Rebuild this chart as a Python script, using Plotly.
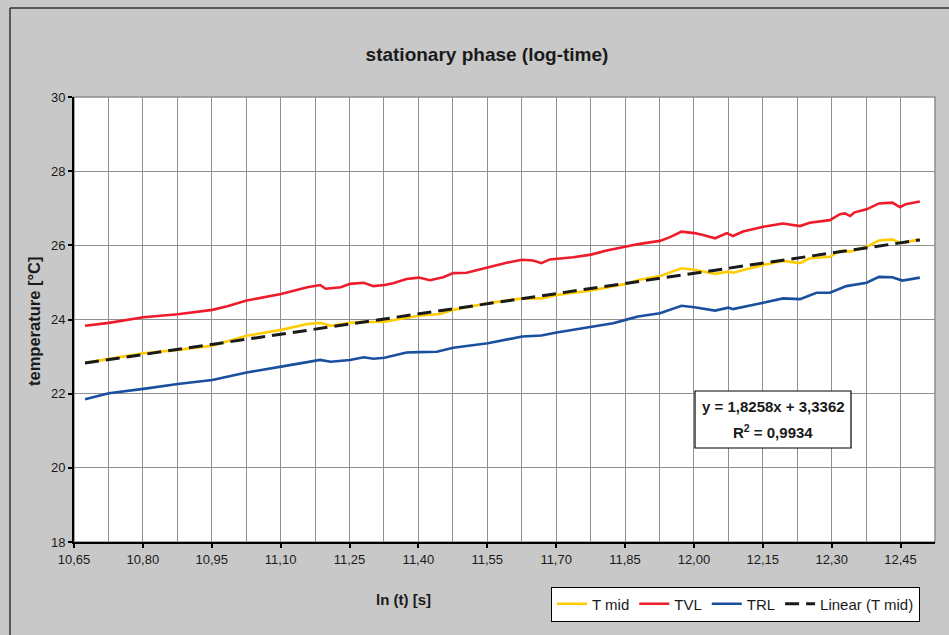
import plotly.graph_objects as go

# ---------------- data ----------------
tmid_x = [10.674, 10.726, 10.801, 10.876, 10.951, 11.026, 11.101, 11.158, 11.186, 11.209,
          11.251, 11.273, 11.326, 11.401, 11.447, 11.476, 11.551, 11.626, 11.668, 11.701,
          11.776, 11.851, 11.882, 11.926, 11.948, 11.973, 12.001, 12.046, 12.075, 12.085,
          12.151, 12.194, 12.231, 12.252, 12.296, 12.318, 12.340, 12.376, 12.403, 12.432,
          12.450, 12.492]
tmid_y = [22.83, 22.94, 23.09, 23.18, 23.29, 23.56, 23.72, 23.88, 23.91, 23.83,
          23.91, 23.93, 23.94, 24.10, 24.15, 24.26, 24.44, 24.57, 24.57, 24.66,
          24.78, 24.96, 25.07, 25.17, 25.26, 25.38, 25.34, 25.23, 25.29, 25.26,
          25.47, 25.58, 25.52, 25.65, 25.69, 25.85, 25.83, 25.96, 26.13, 26.16,
          26.06, 26.16]

tvl_x = [10.674, 10.726, 10.801, 10.876, 10.951, 10.984, 11.026, 11.101, 11.158, 11.186,
         11.198, 11.231, 11.251, 11.281, 11.302, 11.326, 11.345, 11.374, 11.401, 11.425,
         11.454, 11.476, 11.505, 11.551, 11.592, 11.626, 11.650, 11.668, 11.686, 11.737,
         11.776, 11.810, 11.851, 11.882, 11.926, 11.948, 11.973, 12.001, 12.020, 12.046,
         12.072, 12.085, 12.107, 12.151, 12.194, 12.231, 12.252, 12.296, 12.318, 12.329,
         12.340, 12.350, 12.376, 12.403, 12.432, 12.449, 12.461, 12.492]
tvl_y = [23.83, 23.91, 24.06, 24.14, 24.26, 24.36, 24.51, 24.69, 24.87, 24.93,
         24.83, 24.87, 24.96, 24.99, 24.90, 24.93, 24.98, 25.09, 25.13, 25.06,
         25.14, 25.25, 25.26, 25.40, 25.53, 25.61, 25.59, 25.52, 25.62, 25.68,
         25.75, 25.86, 25.96, 26.04, 26.12, 26.22, 26.37, 26.33, 26.28, 26.19,
         26.33, 26.25, 26.37, 26.50, 26.59, 26.52, 26.61, 26.68, 26.84, 26.86,
         26.79, 26.89, 26.97, 27.13, 27.15, 27.03, 27.11, 27.18]

trl_x = [10.674, 10.726, 10.801, 10.876, 10.951, 11.026, 11.101, 11.158, 11.186, 11.209,
         11.251, 11.281, 11.302, 11.326, 11.374, 11.401, 11.440, 11.476, 11.551, 11.626,
         11.668, 11.701, 11.776, 11.824, 11.851, 11.878, 11.926, 11.948, 11.973, 12.001,
         12.046, 12.075, 12.085, 12.151, 12.194, 12.231, 12.267, 12.296, 12.332, 12.376,
         12.403, 12.432, 12.454, 12.492]
trl_y = [21.85, 22.01, 22.13, 22.26, 22.37, 22.57, 22.73, 22.86, 22.91, 22.86,
         22.91, 22.98, 22.94, 22.97, 23.11, 23.12, 23.13, 23.24, 23.36, 23.54,
         23.57, 23.65, 23.81, 23.90, 23.99, 24.08, 24.17, 24.26, 24.37, 24.33,
         24.24, 24.32, 24.28, 24.45, 24.57, 24.55, 24.72, 24.72, 24.90, 24.99,
         25.15, 25.14, 25.05, 25.13]

trend_slope = 1.8258
trend_intercept = 3.3362
trend_r2_text = "0,9934"

x_tick_vals = [10.65, 10.80, 10.95, 11.10, 11.25, 11.40, 11.55, 11.70, 11.85, 12.00, 12.15, 12.30, 12.45]
x_tick_text = ["10,65", "10,80", "10,95", "11,10", "11,25", "11,40", "11,55", "11,70",
               "11,85", "12,00", "12,15", "12,30", "12,45"]
y_tick_vals = [18, 20, 22, 24, 26, 28, 30]
y_tick_text = ["18", "20", "22", "24", "26", "28", "30"]

# ---------------- figure ----------------
W, H = 949, 635
ML, MR, MT, MB = 74, 14, 97, 93
PW, PH = W - ML - MR, H - MT - MB


def px(xp):
    return (xp - ML) / PW


def py(yp):
    return (H - MB - yp) / PH


FONT = "Liberation Sans, Arial, sans-serif"
TXT = "#1a1a1a"

fig = go.Figure()
fig.add_trace(go.Scatter(x=tmid_x, y=tmid_y, mode="lines", name="T mid",
                         line=dict(color="#FFCC00", width=2.6)))
fig.add_trace(go.Scatter(x=tvl_x, y=tvl_y, mode="lines", name="TVL",
                         line=dict(color="#EE1C2A", width=2.6)))
fig.add_trace(go.Scatter(x=trl_x, y=trl_y, mode="lines", name="TRL",
                         line=dict(color="#1A4FA0", width=2.6)))
trend_x = [tmid_x[0], tmid_x[-1]]
trend_y = [trend_slope * v + trend_intercept for v in trend_x]
fig.add_trace(go.Scatter(x=trend_x, y=trend_y, mode="lines", name="Linear (T mid)",
                         line=dict(color="#1a1a1a", width=3, dash="14px,7px")))

fig.update_layout(
    width=W, height=H, autosize=False,
    margin=dict(l=ML, r=MR, t=MT, b=MB, pad=0),
    paper_bgcolor="#C8C8C8", plot_bgcolor="#FFFFFF",
    font=dict(family=FONT, size=13, color=TXT),
    title=dict(text="<b>stationary phase (log-time)</b>", x=487 / W, xanchor="center",
               y=1 - 54 / H, yanchor="middle", yref="container",
               font=dict(size=19, color=TXT, family=FONT)),
    showlegend=True,
    legend=dict(orientation="h", x=px(920), xanchor="right", y=py(604), yanchor="middle",
                bgcolor="#FFFFFF", bordercolor="#000000", borderwidth=1,
                font=dict(size=15, color=TXT, family=FONT), traceorder="normal",
                itemwidth=30, tracegroupgap=0),
    xaxis=dict(range=[10.65, 12.525], tickmode="array", tickvals=x_tick_vals, ticktext=x_tick_text,
               ticks="outside", ticklen=4, tickwidth=2, tickcolor="#000000",
               showline=True, linecolor="#000000", linewidth=2,
               showgrid=True, gridcolor="#909090", gridwidth=1, zeroline=False,
               minor=dict(tickmode="linear", tick0=10.65, dtick=0.075, showgrid=True,
                          gridcolor="#909090", gridwidth=1, ticks=""),
               tickfont=dict(size=13, color=TXT, family=FONT)),
    yaxis=dict(range=[18, 30], tickmode="array", tickvals=y_tick_vals, ticktext=y_tick_text,
               ticks="outside", ticklen=4, tickwidth=2, tickcolor="#000000",
               showline=True, linecolor="#000000", linewidth=2,
               showgrid=True, gridcolor="#909090", gridwidth=1, zeroline=False,
               tickfont=dict(size=13, color=TXT, family=FONT)),
)

# plot-area border (grey top/right), outer chart frame (left/top visible)
fig.add_shape(type="rect", xref="paper", yref="paper", x0=0, x1=1, y0=0, y1=1,
              line=dict(color="#8c8c8c", width=1.5), layer="below")
fig.add_shape(type="line", xref="paper", yref="paper", x0=px(10), x1=px(10), y0=py(8), y1=py(660),
              line=dict(color="#333333", width=1.5))
fig.add_shape(type="line", xref="paper", yref="paper", x0=px(10), x1=px(980), y0=py(8), y1=py(8),
              line=dict(color="#333333", width=1.5))

# axis titles
fig.add_annotation(text="<b>temperature [°C]</b>", xref="paper", yref="paper",
                   x=px(34), y=py(322), textangle=-90, showarrow=False,
                   xanchor="center", yanchor="middle", font=dict(size=16.5, color=TXT, family=FONT))
fig.add_annotation(text="<b>ln (t) [s]</b>", xref="paper", yref="paper",
                   x=px(403), y=py(599), showarrow=False,
                   xanchor="center", yanchor="middle", font=dict(size=15, color=TXT, family=FONT))

# regression label box
fig.add_shape(type="rect", xref="paper", yref="paper", x0=px(695), x1=px(851), y0=py(448), y1=py(391),
              fillcolor="#FFFFFF", line=dict(color="#000000", width=1.2), layer="above")
eq_text = "<b>y = %sx + %s</b>" % (f"{trend_slope:.4f}".replace(".", ","),
                                  f"{trend_intercept:.4f}".replace(".", ","))
fig.add_annotation(text=eq_text, xref="paper", yref="paper", x=px(773), y=py(407),
                   showarrow=False, xanchor="center", yanchor="middle",
                   font=dict(size=15, color=TXT, family=FONT))
fig.add_annotation(text="<b>R<sup>2</sup> = %s</b>" % trend_r2_text, xref="paper", yref="paper",
                   x=px(773), y=py(431), showarrow=False, xanchor="center", yanchor="middle",
                   font=dict(size=15, color=TXT, family=FONT))

fig.write_html("out.html")
